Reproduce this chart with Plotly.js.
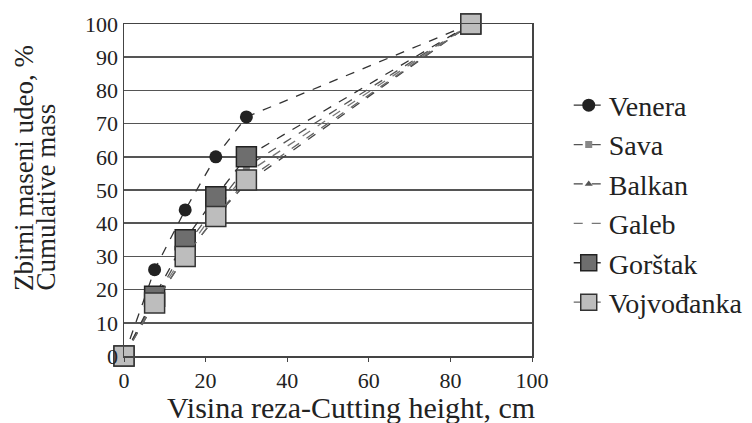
<!DOCTYPE html>
<html><head><meta charset="utf-8">
<script src="https://cdn.plot.ly/plotly-3.0.1.min.js"></script>
<style>html,body{margin:0;padding:0;background:#fff}#chart{width:752px;height:423px}</style>
</head><body><div id="chart"></div>
<script>
const heights = [0, 7.5, 15, 22.5, 30, 85];
const seriesNames = ["Venera", "Sava", "Balkan", "Galeb", "Gorštak", "Vojvođanka"];
const venera = [0, 26, 44, 60, 72, 100];
const sava = [0, 17, 33, 45, 57, 100];
const balkan = [0, 16, 30, 42, 52, 100];
const galeb = [0, 17, 31, 44, 55, 100];
const gorstak = [0, 18, 35, 48, 60, 100];
const vojvodjanka = [0, 16, 30, 42, 53, 100];
const xTicks = [0, 20, 40, 60, 80, 100];
const yTicks = [0, 10, 20, 30, 40, 50, 60, 70, 80, 90, 100];
const xTitle = "Visina reza-Cutting height, cm";
const yTitle1 = "Zbirni maseni udeo, %";
const yTitle2 = "Cumulative mass";

const values = [venera, sava, balkan, galeb, gorstak, vojvodjanka];
const styles = [
  {mode: "lines+markers", marker: {symbol: "circle", size: 13, color: "#222"}, line: {color: "#333"}},
  {mode: "lines+markers", marker: {symbol: "square", size: 7, color: "#888"}, line: {color: "#555"}},
  {mode: "lines+markers", marker: {symbol: "triangle-up", size: 7, color: "#555"}, line: {color: "#444"}},
  {mode: "lines", marker: {}, line: {color: "#777"}},
  {mode: "lines+markers", marker: {symbol: "square", size: 20, color: "#6e6e6e", line: {color: "#222", width: 1.5}}, line: {color: "#333"}},
  {mode: "lines+markers", marker: {symbol: "square", size: 20, color: "#bdbdbd", line: {color: "#333", width: 1.5}}, line: {color: "#666"}}
];
const traces = seriesNames.map((n, i) => ({
  type: "scatter", x: heights, y: values[i], name: n, mode: styles[i].mode,
  marker: styles[i].marker,
  line: Object.assign({width: 1.3, dash: "dash"}, styles[i].line),
  cliponaxis: false, legendgroup: "g" + i
}));

const fam = "Liberation Serif";
const layout = {
  width: 752, height: 423,
  margin: {l: 124, r: 220, t: 24, b: 67, autoexpand: false},
  paper_bgcolor: "#fff", plot_bgcolor: "#fff",
  font: {family: fam, size: 22, color: "#222"},
  showlegend: true,
  legend: {x: 1.09, y: 0.83, xanchor: "left", yanchor: "top",
           font: {family: fam, size: 28, color: "#222"},
           tracegroupgap: 0, bgcolor: "rgba(0,0,0,0)"},
  xaxis: {range: [0, 100], tickvals: xTicks, ticktext: xTicks.map(String),
          showgrid: false, zeroline: false, showline: true, linecolor: "#444", linewidth: 1.5, mirror: true,
          ticks: "outside", ticklen: 4, tickcolor: "#444",
          tickfont: {family: fam, size: 22, color: "#222"}},
  yaxis: {range: [0, 100], tickvals: yTicks, ticktext: yTicks.map(String),
          showgrid: true, gridcolor: "#555", gridwidth: 1.6, zeroline: false,
          showline: true, linecolor: "#444", linewidth: 1.5, mirror: true,
          ticks: "", tickfont: {family: fam, size: 22, color: "#222"}},
  annotations: [
    {text: xTitle, xref: "paper", yref: "paper", x: 0.556, y: -0.155, xanchor: "center", yanchor: "middle",
     showarrow: false, font: {family: fam, size: 30, color: "#222"}},
    {text: yTitle1, xref: "paper", yref: "paper", x: -0.245, y: 0.19, xanchor: "center", yanchor: "bottom",
     textangle: -90, showarrow: false, font: {family: fam, size: 27, color: "#222"}},
    {text: yTitle2, xref: "paper", yref: "paper", x: -0.191, y: 0.19, xanchor: "center", yanchor: "bottom",
     textangle: -90, showarrow: false, font: {family: fam, size: 27, color: "#222"}}
  ]
};
Plotly.newPlot("chart", traces, layout, {staticPlot: true, displayModeBar: false});
</script></body></html>
